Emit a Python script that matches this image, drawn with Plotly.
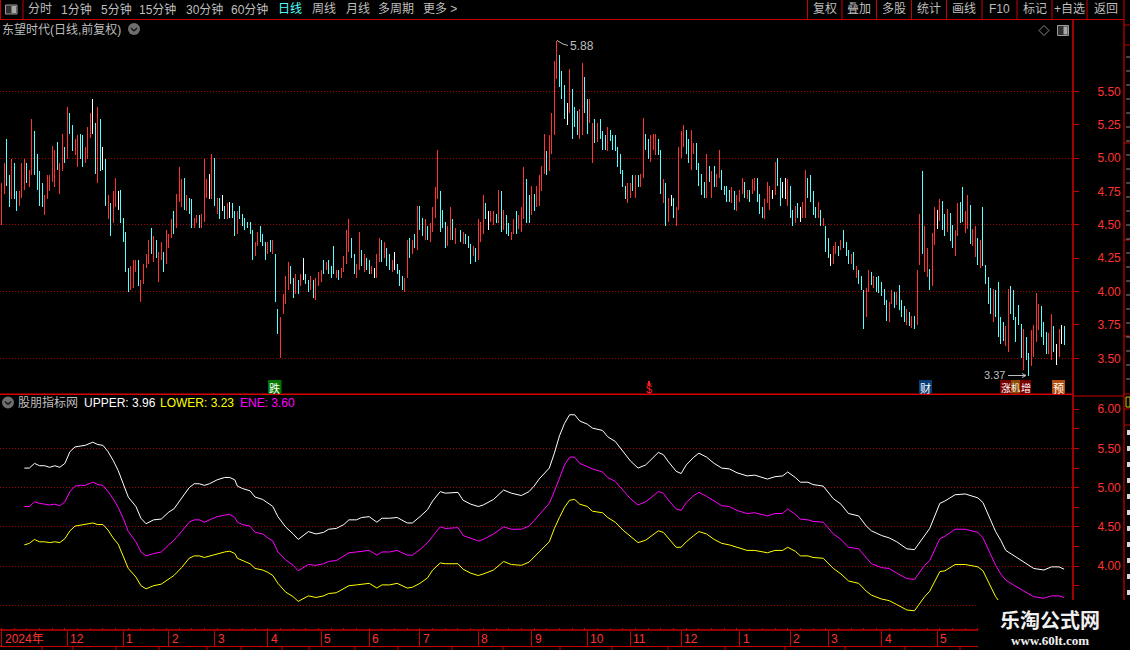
import plotly.graph_objects as go

# ---- data ----
bar_high = [
    4.81,4.96,5.14,4.87,4.99,4.96,4.75,4.75,4.96,4.99,4.96,4.91,5.29,5.20,5.03,4.90,4.81,4.72,4.87,4.87,5.09,
    5.06,5.12,4.96,5.18,5.08,5.38,5.34,5.25,5.14,5.17,5.18,5.17,5.08,5.23,5.34,5.44,5.26,5.38,5.29,5.08,4.99,
    4.72,4.66,4.75,4.85,4.75,4.76,4.55,4.45,4.18,4.19,4.24,4.24,4.24,4.09,4.21,4.28,4.39,4.48,4.42,4.39,4.30,
    4.37,4.30,4.46,4.43,4.54,4.60,4.73,4.93,4.84,4.85,4.72,4.70,4.69,4.55,4.57,4.57,4.58,4.99,4.84,4.88,5.03,
    5.00,4.70,4.70,4.72,4.64,4.66,4.67,4.66,4.60,4.60,4.64,4.58,4.55,4.52,4.52,4.46,4.37,4.45,4.49,4.43,4.37,
    4.37,4.39,4.39,4.28,3.87,3.81,3.98,4.12,4.22,4.19,4.10,4.13,4.09,4.13,4.25,4.13,4.09,4.12,4.09,4.10,4.15,
    4.16,4.24,4.22,4.24,4.19,4.34,4.16,4.16,4.18,4.27,4.46,4.54,4.40,4.28,4.21,4.45,4.31,4.28,4.25,4.24,4.19,
    4.18,4.28,4.40,4.39,4.37,4.33,4.28,4.24,4.30,4.21,4.16,4.12,4.10,4.39,4.40,4.39,4.43,4.64,4.64,4.55,4.54,
    4.49,4.51,4.63,4.78,5.06,4.75,4.61,4.52,4.49,4.63,4.54,4.48,4.45,4.46,4.45,4.43,4.42,4.36,4.34,4.33,4.54,
    4.52,4.72,4.66,4.60,4.60,4.60,4.58,4.76,4.75,4.61,4.57,4.51,4.45,4.54,4.60,4.57,4.63,4.93,4.84,4.72,4.79,
    4.73,4.79,4.87,4.94,5.18,5.05,5.17,5.34,5.73,5.88,5.77,5.65,5.55,5.41,5.67,5.52,5.38,5.35,5.37,5.71,5.61,
    5.44,5.44,5.26,5.29,5.26,5.29,5.20,5.17,5.23,5.21,5.17,5.17,5.08,5.03,4.91,4.79,4.81,4.81,4.87,4.87,4.87,
    4.88,5.30,5.18,5.14,5.17,5.18,5.18,5.14,5.06,4.84,4.81,4.70,4.72,4.70,4.63,5.08,5.20,5.25,5.21,5.14,5.21,
    5.11,5.11,4.96,4.88,4.82,5.03,4.94,4.90,4.94,4.88,5.06,4.91,4.79,4.79,4.76,4.78,4.75,4.72,4.76,4.85,4.82,
    4.76,4.76,4.84,4.85,4.85,4.73,4.63,4.69,4.82,4.79,4.76,4.97,5.00,4.85,4.82,4.85,4.84,4.79,4.61,4.64,4.66,
    4.63,4.67,4.91,4.85,4.87,4.75,4.63,4.67,4.61,4.55,4.49,4.40,4.28,4.34,4.37,4.34,4.39,4.46,4.37,4.31,4.28,
    4.30,4.19,4.16,4.12,4.01,4.03,4.16,4.15,4.12,4.11,4.12,4.07,4.02,3.94,3.92,4.01,4.00,4.00,4.05,3.94,3.89,
    3.87,3.85,3.82,3.82,4.16,4.58,4.90,4.49,4.33,4.17,4.44,4.63,4.61,4.69,4.68,4.58,4.62,4.59,4.50,4.46,4.66,
    4.67,4.78,4.60,4.72,4.65,4.47,4.49,4.40,4.39,4.63,4.20,4.11,4.03,4.02,4.01,4.07,3.81,3.77,3.74,4.02,4.04,
    4.01,3.81,3.90,3.76,3.72,3.66,3.54,3.71,3.75,3.99,3.91,3.89,3.77,3.70,3.69,3.83,3.74,3.61,3.72,3.75,3.74,
]
bar_low = [
    4.50,4.73,4.79,4.63,4.69,4.69,4.60,4.64,4.70,4.76,4.81,4.78,4.87,4.87,4.76,4.64,4.63,4.57,4.69,4.75,4.82,
    4.78,4.91,4.73,4.90,4.96,4.99,5.18,5.05,5.02,4.93,4.99,4.93,4.96,4.99,5.15,5.18,4.88,4.81,4.90,4.91,4.64,
    4.54,4.42,4.51,4.63,4.61,4.51,4.37,4.15,4.00,4.01,4.03,4.15,4.04,3.92,4.06,4.18,4.21,4.28,4.22,4.25,4.07,
    4.24,4.15,4.21,4.33,4.40,4.43,4.48,4.67,4.63,4.61,4.60,4.58,4.48,4.48,4.51,4.48,4.48,4.52,4.70,4.69,4.69,
    4.64,4.58,4.54,4.60,4.54,4.54,4.55,4.55,4.42,4.43,4.54,4.49,4.46,4.48,4.43,4.24,4.27,4.34,4.37,4.34,4.24,
    4.28,4.30,4.28,3.92,3.68,3.50,3.83,3.91,4.01,4.06,3.95,3.98,3.98,4.04,4.09,4.06,4.00,4.01,3.95,3.94,4.04,
    4.07,4.13,4.16,4.13,4.10,4.13,4.10,4.09,4.10,4.15,4.21,4.30,4.25,4.13,4.10,4.16,4.19,4.15,4.16,4.13,4.13,
    4.10,4.10,4.22,4.22,4.25,4.19,4.16,4.15,4.16,4.13,4.04,4.01,4.00,4.10,4.25,4.28,4.33,4.31,4.46,4.42,4.39,
    4.39,4.37,4.45,4.55,4.69,4.45,4.48,4.33,4.34,4.39,4.39,4.36,4.36,4.37,4.36,4.36,4.33,4.21,4.27,4.22,4.24,
    4.37,4.43,4.54,4.46,4.52,4.50,4.51,4.51,4.45,4.46,4.43,4.42,4.39,4.43,4.43,4.47,4.45,4.54,4.51,4.51,4.57,
    4.60,4.63,4.64,4.75,4.88,4.87,4.90,5.03,5.17,5.59,5.53,5.44,5.29,5.25,5.34,5.14,5.23,5.17,5.14,5.17,5.34,
    5.18,5.26,4.96,5.11,5.12,5.14,5.06,5.06,5.05,5.13,5.06,5.05,4.93,4.88,4.78,4.69,4.66,4.70,4.75,4.70,4.78,
    4.78,4.85,5.06,4.99,4.97,5.06,5.02,5.02,4.73,4.66,4.49,4.52,4.64,4.55,4.49,4.61,5.00,5.08,5.03,4.96,4.91,
    5.03,4.91,4.79,4.72,4.70,4.70,4.82,4.70,4.78,4.78,4.85,4.76,4.72,4.67,4.67,4.66,4.61,4.60,4.67,4.73,4.70,
    4.69,4.67,4.73,4.75,4.67,4.58,4.55,4.54,4.66,4.61,4.69,4.72,4.79,4.64,4.70,4.69,4.64,4.55,4.49,4.51,4.55,
    4.52,4.55,4.55,4.70,4.67,4.57,4.55,4.55,4.49,4.49,4.30,4.25,4.19,4.21,4.28,4.27,4.31,4.33,4.27,4.21,4.21,
    4.16,4.10,4.06,4.01,3.72,3.81,4.00,4.05,4.03,4.00,3.99,3.97,3.90,3.78,3.77,3.91,3.88,3.90,3.86,3.81,3.77,
    3.75,3.74,3.73,3.72,3.75,4.20,4.28,4.15,4.11,4.01,4.04,4.35,4.47,4.53,4.46,4.42,4.45,4.38,4.33,4.27,4.42,
    4.51,4.52,4.44,4.47,4.36,4.34,4.26,4.20,4.18,4.19,4.06,3.91,3.83,3.77,3.81,3.66,3.61,3.63,3.59,3.55,3.83,
    3.79,3.62,3.75,3.50,3.41,3.49,3.37,3.44,3.51,3.62,3.71,3.66,3.60,3.53,3.53,3.49,3.55,3.45,3.51,3.61,3.60,
]
bar_kind = list(
    "rrccrccrrrcrrccccrrrrrcrrcrccrrccrrrwcrcwcrcrrwccccrrrcrrrrcrcrrcrrrcrrrcrccrrcrrrwr"
    "crcwcrwccrccccccrrcccrcrccrrrrccrcrwccrcrrrcrcccrcrrrrccrrcrccrwrrcrccrwcccrrcrcrccr"
    "crrrrcccrrcrccrcccrcrrrcwrrcrcrccrrcrrrccrcrrrrcrrrrcccwrcccrrccrrcrcccrcccccccrrcrc"
    "rrccrrrccrcrwcrrrrccrrccccrcrcrrccccrcrrrcrcrrcccrrrwrccwwrccrcwrrccccrcrccwrrcrcccr"
    "crcccrrcrcccccrrcrcccrcrcrrcrrcrrwrccrccrrccrrcrrcrccccrccccrrcccccrccrrrrcccrrcwrwc"
)
bar_colors = {"r": "rgba(255,50,50,0.999)", "c": "rgba(84,255,255,0.999)", "w": "rgba(255,255,255,0.999)"}

line_idx = [
    9,11,13,15,17,19,21,23,25,27,29,31,33,36,38,40,42,44,46,48,50,53,55,57,60,63,66,68,71,74,76,78,80,82,85,88,90,
    92,93,95,98,100,103,105,107,109,112,115,117,121,124,127,129,132,135,137,140,142,145,148,150,153,156,160,162,
    165,168,170,173,175,180,182,185,188,190,194,198,201,205,208,210,212,216,218,220,222,224,226,228,231,233,237,
    239,242,245,248,251,254,259,261,263,266,268,270,273,275,278,281,284,287,290,294,297,302,305,308,310,313,315,
    318,320,324,328,331,334,338,341,343,347,350,353,357,360,364,366,370,372,376,380,385,387,392,394,396,400,404,
    407,411,414,417,419,
]
upper = [
    5.25,5.25,5.31,5.28,5.28,5.26,5.28,5.26,5.31,5.46,5.52,5.53,5.54,5.58,5.55,5.54,5.46,5.35,5.22,5.05,4.88,4.76,
    4.61,4.54,4.59,4.60,4.69,4.73,4.86,5.00,5.05,5.05,5.03,5.05,5.10,5.13,5.13,5.10,5.02,4.99,4.96,4.88,4.85,4.81,
    4.76,4.63,4.50,4.41,4.34,4.44,4.41,4.43,4.47,4.48,4.53,4.59,4.59,4.62,4.63,4.56,4.61,4.61,4.62,4.55,4.55,4.63,
    4.72,4.83,4.95,4.93,4.94,4.84,4.79,4.76,4.78,4.85,4.97,4.93,4.90,4.95,5.02,5.11,5.25,5.44,5.66,5.82,5.93,5.93,
    5.85,5.81,5.76,5.73,5.65,5.59,5.46,5.34,5.25,5.29,5.45,5.42,5.33,5.21,5.18,5.29,5.39,5.44,5.39,5.31,5.25,5.24,
    5.19,5.15,5.16,5.11,5.14,5.15,5.20,5.13,5.07,5.07,5.04,5.02,4.86,4.79,4.67,4.64,4.51,4.45,4.39,4.36,4.31,4.22,
    4.21,4.39,4.48,4.80,4.83,4.91,4.92,4.87,4.81,4.44,4.33,4.20,4.12,4.03,3.97,3.95,3.99,3.99,3.96,
]
ene = [
    4.76,4.76,4.82,4.80,4.79,4.78,4.79,4.77,4.82,4.95,5.02,5.03,5.03,5.07,5.04,5.03,4.95,4.86,4.75,4.61,4.44,4.31,
    4.18,4.13,4.16,4.18,4.27,4.33,4.44,4.56,4.59,4.59,4.56,4.59,4.63,4.65,4.66,4.62,4.56,4.53,4.51,4.43,4.41,4.36,
    4.32,4.18,4.08,4.01,3.94,4.02,4.01,4.03,4.06,4.07,4.13,4.17,4.18,4.19,4.20,4.14,4.18,4.18,4.20,4.14,4.14,4.21,
    4.30,4.38,4.50,4.48,4.49,4.39,4.35,4.32,4.34,4.41,4.50,4.47,4.47,4.51,4.58,4.65,4.80,4.95,5.13,5.29,5.39,5.39,
    5.31,5.27,5.24,5.20,5.13,5.08,4.97,4.86,4.78,4.82,4.95,4.93,4.84,4.73,4.71,4.81,4.90,4.94,4.89,4.83,4.77,4.76,
    4.71,4.67,4.68,4.64,4.67,4.67,4.73,4.66,4.60,4.59,4.57,4.56,4.41,4.34,4.24,4.22,4.10,4.03,3.98,3.97,3.91,3.84,
    3.83,4.01,4.07,4.35,4.38,4.47,4.47,4.43,4.36,4.01,3.90,3.82,3.74,3.66,3.61,3.59,3.62,3.62,3.60,
]
lower = [
    4.27,4.29,4.34,4.31,4.31,4.30,4.31,4.30,4.35,4.45,4.51,4.52,4.53,4.55,4.53,4.53,4.46,4.36,4.28,4.12,3.97,3.86,
    3.75,3.71,3.75,3.77,3.83,3.88,3.98,4.10,4.13,4.13,4.11,4.13,4.16,4.18,4.19,4.16,4.10,4.07,4.03,3.97,3.95,3.92,
    3.88,3.78,3.67,3.61,3.55,3.62,3.60,3.62,3.65,3.66,3.71,3.75,3.76,3.77,3.78,3.72,3.76,3.76,3.78,3.72,3.73,3.78,
    3.85,3.95,4.04,4.03,4.03,3.96,3.91,3.88,3.90,3.95,4.06,4.02,4.01,4.05,4.11,4.18,4.31,4.48,4.62,4.75,4.84,4.85,
    4.79,4.76,4.70,4.68,4.62,4.56,4.46,4.38,4.30,4.33,4.45,4.43,4.35,4.24,4.24,4.31,4.39,4.44,4.41,4.34,4.29,4.27,
    4.24,4.20,4.20,4.17,4.20,4.20,4.24,4.19,4.13,4.13,4.11,4.10,3.97,3.90,3.81,3.78,3.68,3.63,3.58,3.56,3.51,3.44,
    3.43,3.61,3.68,3.93,3.94,4.02,4.02,3.99,3.94,3.61,3.52,
]

month_idx = [0, 26, 48, 66, 84, 105, 126, 145, 165, 188, 209, 231, 248, 268, 291, 311, 326, 347, 369]
month_txt = ["2024年", "12", "1", "2", "3", "4", "5", "6", "7", "8", "9", "10", "11", "12", "1", "2", "3", "4", "5"]

main_ticks = [5.50, 5.25, 5.00, 4.75, 4.50, 4.25, 4.00, 3.75, 3.50]
sub_ticks = [6.00, 5.75, 5.50, 5.25, 5.00, 4.75, 4.50, 4.25, 4.00, 3.75, 3.50]
sub_text = ["6.00", "", "5.50", "", "5.00", "", "4.50", "", "4.00", "", "3.50"]
grid_levels = [5.5, 5.0, 4.5, 4.0, 3.5]

tabs_left = [("分时", 28), ("1分钟", 61), ("5分钟", 101), ("15分钟", 139), ("30分钟", 186), ("60分钟", 231),
             ("日线", 278), ("周线", 312), ("月线", 346), ("多周期", 378), ("更多 >", 423)]
tabs_right = ["复权", "叠加", "多股", "统计", "画线", "F10", "标记", "+自选", "返回"]
tab_edges = [807.5, 842, 876.5, 911.5, 946.5, 982, 1017, 1052, 1087, 1124]

W, H = 1130, 650
RED = "#C80000"
GREY = "#BEBEBE"
FONT = "Liberation Sans, Noto Sans CJK SC"
CJK = "Noto Sans CJK SC"


def px(x):
    return x / W


def py(y):
    return 1 - y / H


def rule(x0, y0, x1, y1, color=RED, width=1):
    return dict(type="line", xref="paper", yref="paper", x0=px(x0), y0=py(y0), x1=px(x1), y1=py(y1),
                line=dict(color=color, width=width), layer="above")


def box(x0, y0, x1, y1, fill="rgba(0,0,0,0)", color="rgba(0,0,0,0)", width=0):
    return dict(type="rect", xref="paper", yref="paper", x0=px(x0), y0=py(y0), x1=px(x1), y1=py(y1),
                fillcolor=fill, line=dict(color=color, width=width), layer="above")


def label(text, x, y, color=GREY, size=12, anchor="left", family=FONT):
    return dict(text=text, xref="paper", yref="paper", x=px(x), y=py(y), xanchor=anchor, yanchor="middle",
                showarrow=False, font=dict(color=color, size=size, family=family), borderpad=0, borderwidth=0)


def round_icon(x, y):
    return [
        dict(type="circle", xref="paper", yref="paper", x0=px(x - 6), y0=py(y + 6), x1=px(x + 6), y1=py(y - 6),
             fillcolor="#6E6E6E", line=dict(width=0), layer="above"),
        rule(x - 3, y - 1, x, y + 2, "#101010", 1.2),
        rule(x, y + 2, x + 3, y - 1, "#101010", 1.2),
    ]


shapes = []
annotations = []

# top bar
shapes += [rule(0, 19.5, 1124, 19.5), rule(23, 0, 23, 19.5), rule(0.5, 0, 0.5, 19.5)]
shapes.append(box(5.5, 5, 17, 14, "#303030", "#9A9A9A", 1))
shapes.append(box(11.5, 6, 16, 13, "#A8A8A8"))
for text, x in tabs_left:
    annotations.append(label(text, x, 9.5, "#54FFFF" if text == "日线" else GREY, 12))
for e in tab_edges:
    shapes.append(rule(e, 0, e, 19.5))
for i, text in enumerate(tabs_right):
    annotations.append(label(text, (tab_edges[i] + tab_edges[i + 1]) / 2, 9.5, GREY, 12, "center"))

# title row
annotations.append(label("东望时代(日线,前复权)", 2, 29.5, GREY, 12))
shapes += round_icon(134, 29)
shapes += [rule(1044, 25.5, 1049, 30.5, "#8A8A8A"), rule(1049, 30.5, 1044, 35.5, "#8A8A8A"),
           rule(1044, 35.5, 1039, 30.5, "#8A8A8A"), rule(1039, 30.5, 1044, 25.5, "#8A8A8A")]
shapes.append(box(1057.5, 25.5, 1068.5, 35.5, "#303030", "#9A9A9A", 1))
shapes.append(box(1063.5, 26.5, 1067.5, 34.5, "#A8A8A8"))

# right column
shapes += [rule(1073, 19.5, 1073, 630, RED, 1.6), rule(1124, 19.5, 1124, 630, RED, 1.2)]
shapes += [rule(1073, 396, 1124, 396, RED, 1)]
for y in [25, 45, 143, 240, 336, 394, 409, 425]:
    shapes.append(rule(1124, y, 1130, y, RED))
for y in range(50, 390, 7):
    if y % 2:
        shapes.append(rule(1126, y, 1130, y, "#8C8C8C"))
for y in range(430, 600, 16):
    shapes.append(box(1127, y, 1130, y + 5, "#D8D8D8"))
shapes.append(box(1126, 397, 1130, 407, "rgba(0,0,0,0)", "#C8C800", 1))

# panel divider
shapes.append(rule(0, 394.3, 1073, 394.3, "#D80000", 1.4))

# peak and trough marks
annotations.append(label("5.88", 570, 45.5, GREY, 12))
shapes += [rule(557, 40.5, 563, 44, GREY), rule(563, 44, 568, 45.5, GREY)]
annotations.append(label("3.37", 984, 374.5, GREY, 11))
shapes += [rule(1008, 375.5, 1026, 375.5, GREY), rule(1022, 373.5, 1026, 375.5, GREY), rule(1022, 377.5, 1026, 375.5, GREY)]

# event tags
for text, x0, x1, fill, fs in [("跌", 268, 281.5, "#007800", 11), ("财", 919, 932, "#0A3C78", 11),
                               ("涨", 1000, 1011, "#7A0000", 10), ("机", 1011, 1020, "#8C4A00", 9),
                               ("增", 1020, 1031, "#7A0000", 10), ("预", 1052, 1065, "#B4500A", 11)]:
    shapes.append(box(x0, 380, x1, 393.5, fill))
    annotations.append(label(text, (x0 + x1) / 2, 387.5, "#FFFFFF", fs, "center", CJK))
annotations.append(label("$", 649, 388.5, "#FF2020", 11, "center"))
shapes += [rule(649, 381, 649, 385, "#FF2020", 2), rule(646.5, 384, 651.5, 384, "#FF2020", 1)]

# indicator legend
shapes += round_icon(8, 402.5)
annotations += [
    label("股朋指标网", 18, 402.5, GREY, 12),
    label("UPPER: 3.96", 84, 402.5, "#FFFFFF", 12),
    label("LOWER: 3.23", 160, 402.5, "#FFFF00", 12),
    label("ENE: 3.60", 240, 402.5, "#FF00FF", 12),
]

# month strip
for i, m in zip(month_idx, month_txt):
    annotations.append(dict(text=m, xref="x2", yref="paper", x=i, y=py(638.5), xanchor="left", yanchor="middle",
                            xshift=1, showarrow=False, font=dict(color="#FF3232", size=12, family=FONT)))
shapes += [rule(0, 630, 1073, 630, RED, 1.4), rule(0, 646.5, 1073, 646.5, RED, 1.2)]
for x in [42, 73, 116, 159, 207, 241, 282, 309, 355, 398, 452, 503, 560, 612, 668, 725, 785, 845, 905, 960]:
    shapes.append(rule(x, 647, x, 650))

# watermark
shapes.append(box(978, 600, 1130, 650, "#000000"))
annotations.append(label("<b>乐淘公式网</b>", 1050, 619, "#F0F0F0", 20, "center", CJK))
annotations.append(label("<b>www.60lt.com</b>", 1050, 640.5, "#F0F0F0", 13, "center", "Liberation Serif"))

fig = go.Figure()
fig.add_trace(go.Bar(x=list(range(len(bar_high))), y=[h - l for h, l in zip(bar_high, bar_low)], base=bar_low,
                     width=0.394, marker=dict(color=[bar_colors[k] for k in bar_kind], line=dict(width=0)),
                     xaxis="x", yaxis="y", showlegend=False))
for vals, col in [(upper, "#FFFFFF"), (ene, "#FF00FF"), (lower, "#FFFF00")]:
    fig.add_trace(go.Scatter(x=line_idx[:len(vals)], y=vals, mode="lines", line=dict(color=col, width=1),
                             xaxis="x2", yaxis="y2", showlegend=False))

x_range = [-0.59, 422.5]
axis_font = dict(color="#FF3232", size=12, family=FONT)
fig.update_layout(
    width=W, height=H, autosize=False,
    margin=dict(l=0, r=0, t=0, b=0, pad=0),
    paper_bgcolor="#000000", plot_bgcolor="#000000",
    showlegend=False, bargap=0,
    xaxis=dict(domain=[0, 1073 / W], range=x_range, anchor="y", showgrid=False, zeroline=False, showticklabels=False, ticks=""),
    xaxis2=dict(domain=[0, 1073 / W], range=x_range, anchor="y2", showgrid=False, zeroline=False, showticklabels=False,
                tickmode="array", tickvals=month_idx, ticks="outside", ticklen=16, tickcolor=RED, tickwidth=1,
                minor=dict(dtick=5, tick0=0, ticks="inside", ticklen=2, tickcolor=RED, tickwidth=1)),
    yaxis=dict(domain=[py(394), py(20)], range=[3.233, 6.034], side="right", anchor="x", zeroline=False, showgrid=False,
               tickmode="array", tickvals=main_ticks, ticktext=[f"{v:.2f}" for v in main_ticks], tickfont=axis_font,
               ticks="outside", ticklen=5, tickcolor=RED, tickwidth=1, ticklabelstandoff=16,
               minor=dict(tickmode="array", tickvals=grid_levels, showgrid=True, griddash="1px,2px",
                          gridcolor="#A00000", gridwidth=1, ticks="")),
    yaxis2=dict(domain=[py(630), py(395)], range=[3.185, 6.182], side="right", anchor="x2", zeroline=False, showgrid=False,
                tickmode="array", tickvals=sub_ticks, ticktext=sub_text, tickfont=axis_font,
                ticks="outside", ticklen=5, tickcolor=RED, tickwidth=1, ticklabelstandoff=16,
                minor=dict(tickmode="array", tickvals=grid_levels, showgrid=True, griddash="1px,2px",
                           gridcolor="#A00000", gridwidth=1, ticks="")),
    shapes=shapes,
    annotations=annotations,
)
# page margin would push the 1130x650 figure off the window
fig.write_html("out.html", config={"displayModeBar": False},
               post_script="document.body.style.margin='0';document.body.style.background='#000';")
